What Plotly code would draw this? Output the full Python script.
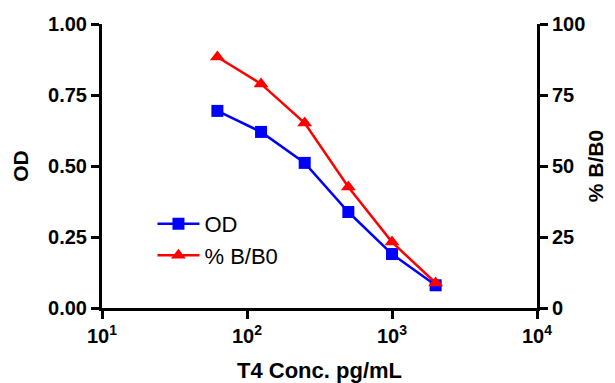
import plotly.graph_objects as go

conc = [62.5, 125, 250, 500, 1000, 2000]
od = [0.694, 0.620, 0.511, 0.338, 0.190, 0.080]
bb0 = [88.4, 78.9, 65.1, 42.6, 23.2, 8.8]

x_tickvals = [10, 100, 1000, 10000]
x_ticktext = ["10<sup>1</sup>", "10<sup>2</sup>", "10<sup>3</sup>", "10<sup>4</sup>"]
y1_ticks = [0, 0.25, 0.5, 0.75, 1.0]
y2_ticks = [0, 25, 50, 75, 100]

FONT = "Liberation Sans, Arial, sans-serif"

fig = go.Figure()
fig.add_trace(go.Scatter(
    x=conc, y=od, name="OD", mode="lines+markers",
    line=dict(color="#0000ff", width=2.5),
    marker=dict(symbol="square", size=12, color="#0000ff"),
    yaxis="y"))
fig.add_trace(go.Scatter(
    x=conc, y=bb0, name="% B/B0", mode="lines+markers",
    line=dict(color="#ff0000", width=2.5),
    marker=dict(symbol="triangle-up", size=13, color="#ff0000"),
    yaxis="y2"))

axis_common = dict(showline=True, linecolor="black", linewidth=3,
                   ticks="outside", ticklen=8, tickwidth=3, tickcolor="black",
                   showgrid=False, zeroline=False, automargin=False,
                   tickfont=dict(family=FONT, size=20, color="black", weight="bold"))

fig.update_layout(
    width=607, height=375,
    margin=dict(l=94, r=78, t=16, b=75, autoexpand=False),
    paper_bgcolor="white", plot_bgcolor="white",
    showlegend=True,
    legend=dict(x=0.116, y=0.37, xanchor="left", yanchor="top",
                font=dict(family=FONT, size=22, color="black"),
                bgcolor="rgba(0,0,0,0)", tracegroupgap=0, itemsizing="trace",
                itemwidth=42),
    xaxis=dict(type="log", range=[1, 4], tickvals=x_tickvals, ticktext=x_ticktext,
               title=dict(text="T4 Conc. pg/mL", standoff=18,
                          font=dict(family=FONT, size=22, color="black", weight="bold")),
               **axis_common),
    yaxis=dict(range=[0, 1], tickvals=y1_ticks, tickformat=".2f",
               title=dict(text="OD", standoff=14,
                          font=dict(family=FONT, size=21, color="black", weight="bold")),
               **axis_common),
    yaxis2=dict(range=[0, 100], tickvals=y2_ticks, overlaying="y", side="right",
                title=dict(text="% B/B0", standoff=4,
                           font=dict(family=FONT, size=21, color="black", weight="bold")),
                **axis_common),
)

fig.write_html("out.html")
